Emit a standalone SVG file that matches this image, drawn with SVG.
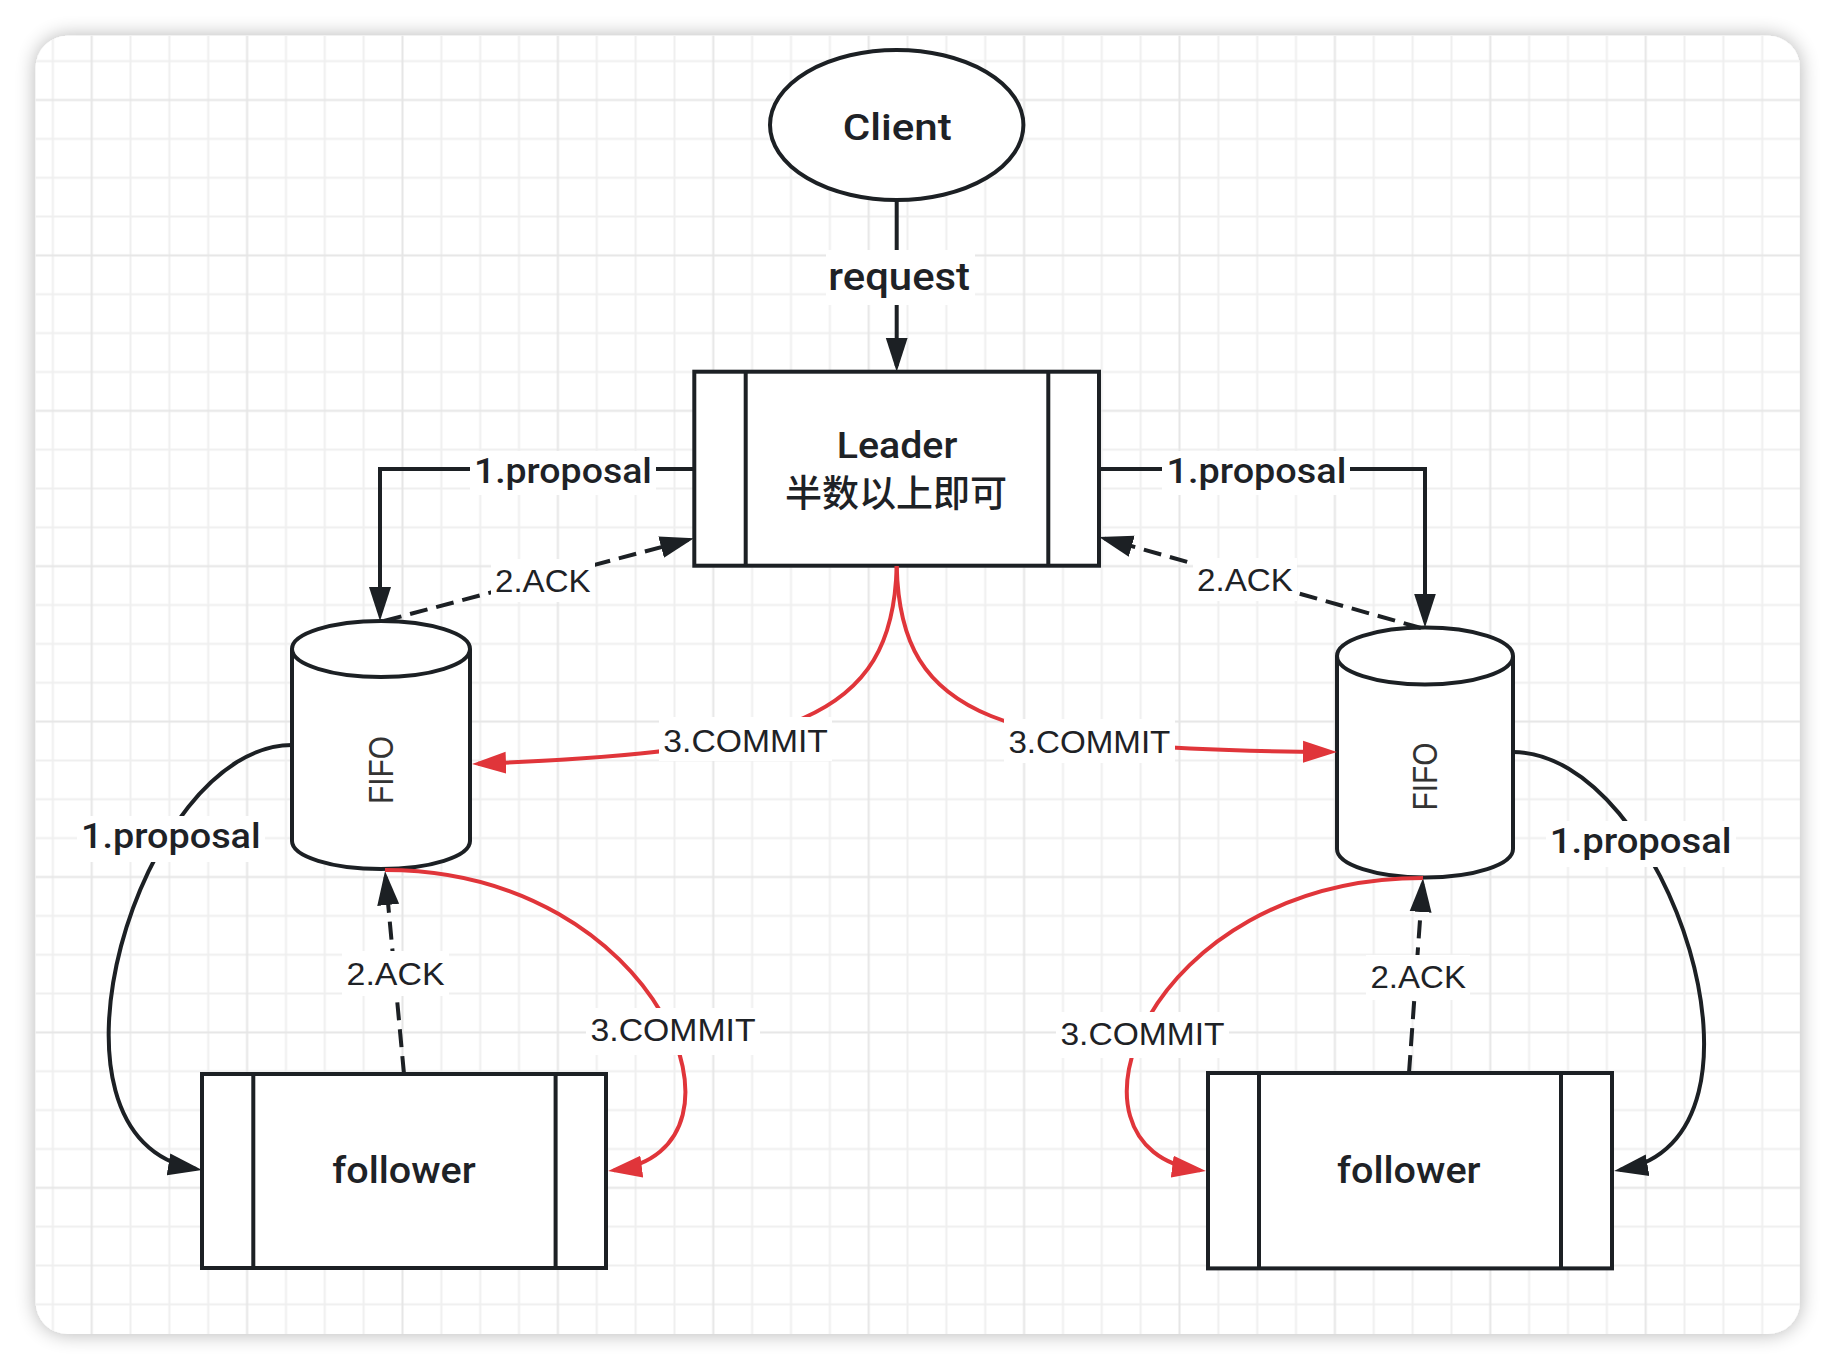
<svg xmlns="http://www.w3.org/2000/svg" width="1838" height="1370" viewBox="0 0 1838 1370">
<defs>
<style>
.node{fill:#fff;stroke:#1c2024;stroke-width:4;stroke-linejoin:miter}
.ln{fill:none;stroke:#1c2024;stroke-width:4}
.dash{stroke-dasharray:18 9}
.red{fill:none;stroke:#e0353a;stroke-width:4}
.t{font-family:"Liberation Sans",Arial,sans-serif;fill:#1e2226}
.m{font-family:Roboto,"Liberation Sans",Arial,sans-serif;font-weight:500;fill:#1e2226}
.cjk{font-family:"Noto Sans CJK SC",sans-serif;font-weight:500;fill:#1e2226}
.fifo{font-family:"Liberation Sans",Arial,sans-serif;fill:#333}
.bg{fill:#fff}
</style>
<filter id="sh" x="-5%" y="-5%" width="110%" height="110%">
<feGaussianBlur in="SourceAlpha" stdDeviation="10"/>
<feComponentTransfer><feFuncA type="linear" slope="0.3"/></feComponentTransfer>
<feMerge><feMergeNode/><feMergeNode in="SourceGraphic"/></feMerge>
</filter>
<pattern id="grid" patternUnits="userSpaceOnUse" x="72.275" y="80.575" width="155.4" height="155.4">
<path d="M58.275 0V155.4M97.125 0V155.4M135.975 0V155.4M0 58.275H155.4M0 97.125H155.4M0 135.975H155.4" stroke="#efefef" stroke-width="2" fill="none"/>
<path d="M19.425 0V155.4M0 19.425H155.4" stroke="#e6e6e6" stroke-width="2" fill="none"/>
</pattern>
<marker id="ah" markerUnits="userSpaceOnUse" markerWidth="34" markerHeight="24" viewBox="0 0 34 24" refX="28" refY="12" orient="auto"><path d="M0,1 L34,12 L0,23 Z" fill="#1c2024"/></marker>
<marker id="ahr" markerUnits="userSpaceOnUse" markerWidth="34" markerHeight="24" viewBox="0 0 34 24" refX="28" refY="12" orient="auto"><path d="M0,1 L34,12 L0,23 Z" fill="#e0353a"/></marker>
</defs>

<rect width="1838" height="1370" fill="#fff"/>
<g id="card">
<rect x="35.6" y="35.7" width="1764.4" height="1298.3" rx="32" fill="#fff" filter="url(#sh)"/>
<rect x="35.6" y="35.7" width="1764.4" height="1298.3" rx="32" fill="url(#grid)"/>
</g>

<g id="client">
<ellipse class="node" cx="896.7" cy="125" rx="126.7" ry="75"/>
<text class="m" x="897.2" y="140" font-size="37" text-anchor="middle" textLength="109" lengthAdjust="spacingAndGlyphs">Client</text>
</g>

<g id="leader">
<rect class="node" x="694.3" y="371.7" width="404.7" height="194"/>
<path class="ln" d="M745.7 371.7V565.7M1048.3 371.7V565.7"/>
<text class="m" x="897" y="457.7" font-size="37" text-anchor="middle" textLength="120.6" lengthAdjust="spacingAndGlyphs">Leader</text>
<text class="cjk" x="896" y="507" font-size="37" text-anchor="middle">半数以上即可</text>
</g>

<g id="fifo-left">
<path class="node" d="M292 649A89 28 0 0 1 470 649V841A89 28 0 0 1 292 841Z"/>
<path class="ln" d="M292 649A89 28 0 0 0 470 649"/>
<text class="fifo" transform="translate(380 770) rotate(-90)" x="0" y="13" font-size="35" text-anchor="middle" textLength="68" lengthAdjust="spacingAndGlyphs">FIFO</text>
</g>

<g id="fifo-right">
<path class="node" d="M1337 656A88 28.5 0 0 1 1513 656V849A88 28.5 0 0 1 1337 849Z"/>
<path class="ln" d="M1337 656A88 28.5 0 0 0 1513 656"/>
<text class="fifo" transform="translate(1424 776.5) rotate(-90)" x="0" y="13" font-size="35" text-anchor="middle" textLength="68" lengthAdjust="spacingAndGlyphs">FIFO</text>
</g>

<g id="follower-left">
<rect class="node" x="202" y="1074" width="404" height="194"/>
<path class="ln" d="M253.3 1074V1268M555.6 1074V1268"/>
<text class="m" x="404" y="1183" font-size="37" text-anchor="middle" textLength="143.5" lengthAdjust="spacingAndGlyphs">follower</text>
</g>

<g id="follower-right">
<rect class="node" x="1208" y="1073" width="404" height="195.4"/>
<path class="ln" d="M1259 1073V1268.4M1561 1073V1268.4"/>
<text class="m" x="1408.8" y="1183" font-size="37" text-anchor="middle" textLength="143.6" lengthAdjust="spacingAndGlyphs">follower</text>
</g>

<g id="connectors">
<path class="ln" d="M896.7 200V365.7" marker-end="url(#ah)"/>
<path class="ln" d="M694.3 469H380V615" marker-end="url(#ah)"/>
<path class="ln" d="M1099 469H1425V621.5" marker-end="url(#ah)"/>
<path class="ln dash" d="M384 621L688.2 539.9" marker-end="url(#ah)"/>
<path class="ln dash" d="M1421 628L1104.8 538.6" marker-end="url(#ah)"/>
<path class="red" d="M896.7 566C893 720 790 752 478 763.8" marker-end="url(#ahr)"/>
<path class="red" d="M896.7 566C900 720 1000 750 1331 752" marker-end="url(#ahr)"/>
<path class="ln" d="M292 745C140 745 20 1140 196.1 1169" marker-end="url(#ah)"/>
<path class="ln" d="M1513 752C1666 752 1795 1140 1620 1170" marker-end="url(#ah)"/>
<path class="ln dash" d="M404 1074L385.6 877" marker-end="url(#ah)"/>
<path class="ln dash" d="M1409 1073L1422.6 884" marker-end="url(#ah)"/>
<path class="red" d="M385 870C660 870 770 1150 614 1170.2" marker-end="url(#ahr)"/>
<path class="red" d="M1423 878C1146 878 1044 1150 1200 1170.2" marker-end="url(#ahr)"/>

<g id="labels">
<rect class="bg" x="826" y="250" width="149" height="55"/>
<text class="m" x="899.2" y="290" font-size="38" text-anchor="middle" textLength="141.7" lengthAdjust="spacingAndGlyphs">request</text>

<rect class="bg" x="470" y="451" width="186" height="44"/>
<text class="m" x="562.9" y="483.3" font-size="35" text-anchor="middle" textLength="178" lengthAdjust="spacingAndGlyphs">1.proposal</text>
<rect class="bg" x="1162" y="451" width="188" height="44"/>
<text class="m" x="1256.4" y="483" font-size="35" text-anchor="middle" textLength="179.8" lengthAdjust="spacingAndGlyphs">1.proposal</text>

<rect class="bg" x="491" y="559" width="104" height="43"/>
<text class="t" x="542.8" y="591.7" font-size="31" text-anchor="middle" textLength="95.6" lengthAdjust="spacingAndGlyphs">2.ACK</text>
<rect class="bg" x="1193" y="558" width="104" height="43"/>
<text class="t" x="1244.9" y="590.7" font-size="31" text-anchor="middle" textLength="95.8" lengthAdjust="spacingAndGlyphs">2.ACK</text>

<rect class="bg" x="659" y="717" width="173" height="44"/>
<text class="t" x="745.6" y="751.7" font-size="32" text-anchor="middle" textLength="164.6" lengthAdjust="spacingAndGlyphs">3.COMMIT</text>
<rect class="bg" x="1004" y="719" width="171" height="44"/>
<text class="t" x="1089.4" y="753.3" font-size="32" text-anchor="middle" textLength="161.9" lengthAdjust="spacingAndGlyphs">3.COMMIT</text>

<rect class="bg" x="77" y="816" width="188" height="46"/>
<text class="m" x="170.8" y="848" font-size="35" text-anchor="middle" textLength="179.5" lengthAdjust="spacingAndGlyphs">1.proposal</text>
<rect class="bg" x="1546" y="821" width="190" height="46"/>
<text class="m" x="1640.7" y="853" font-size="35" text-anchor="middle" textLength="181.8" lengthAdjust="spacingAndGlyphs">1.proposal</text>

<rect class="bg" x="342" y="951" width="107" height="45"/>
<text class="t" x="395.6" y="985" font-size="31" text-anchor="middle" textLength="98" lengthAdjust="spacingAndGlyphs">2.ACK</text>
<rect class="bg" x="1366" y="955" width="104" height="45"/>
<text class="t" x="1418.2" y="988.4" font-size="31" text-anchor="middle" textLength="95.5" lengthAdjust="spacingAndGlyphs">2.ACK</text>

<rect class="bg" x="586" y="1008" width="174" height="47"/>
<text class="t" x="673" y="1041" font-size="32" text-anchor="middle" textLength="165" lengthAdjust="spacingAndGlyphs">3.COMMIT</text>
<rect class="bg" x="1056" y="1012" width="173" height="46"/>
<text class="t" x="1142.5" y="1044.6" font-size="32" text-anchor="middle" textLength="164.1" lengthAdjust="spacingAndGlyphs">3.COMMIT</text>
</g>
</g>
</svg>
